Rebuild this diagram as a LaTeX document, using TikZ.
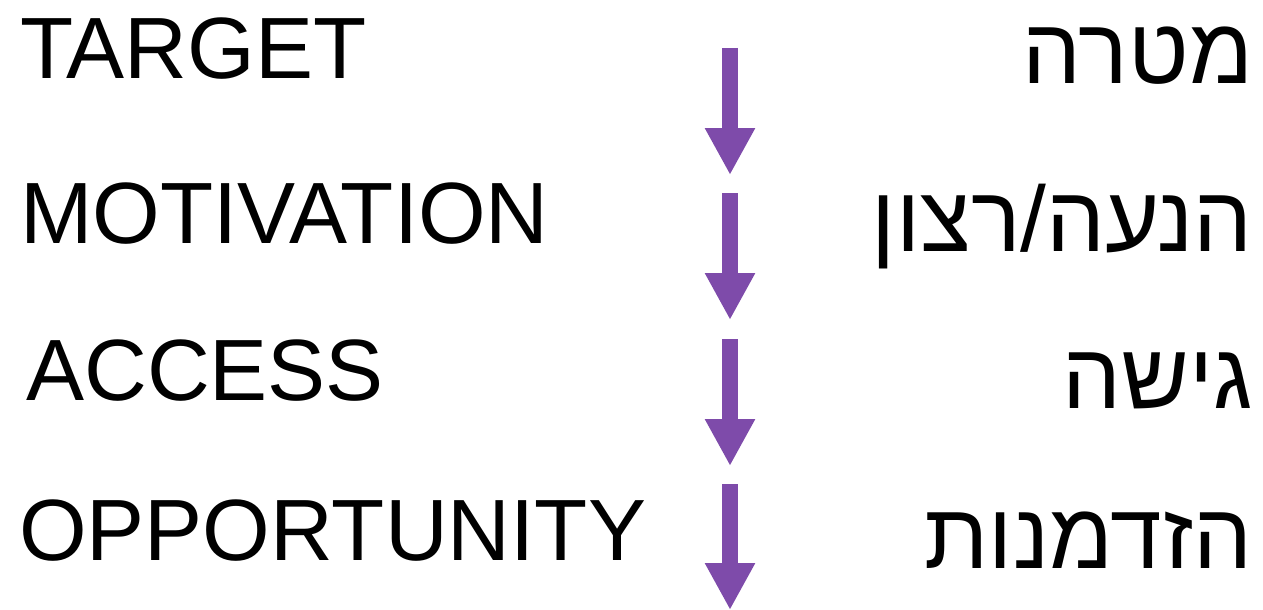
\documentclass[tikz,border=0pt]{standalone}
\usepackage{fontspec}
\setmainfont{Liberation Sans}
\newfontfamily\hebfont[Script=Hebrew]{Liberation Sans}
\TeXXeTstate=1
\usetikzlibrary{arrows.meta}
\definecolor{arrowpurple}{RGB}{126,75,170}

\begin{document}
\begin{tikzpicture}[x=1pt, y=-1pt,
		eng/.style={anchor=base west, inner sep=0pt, font=\fontsize{87}{90}\selectfont},
		heb/.style={anchor=base east, inner sep=0pt, font=\fontsize{93}{96}\selectfont\hebfont},
		down/.style={arrowpurple, line width=16pt, -{Triangle[length=47pt, width=47pt]}}]
	\useasboundingbox (0,0) rectangle (1263,610);
	% left column
	\node[eng] (target) at (20,78) {TARGET};
	\node[eng] (motivation) at (20,243) {MOTIVATION};
	\node[eng] (access) at (26,400) {ACCESS};
	\node[eng] (opportunity) at (19,560) {OPPORTUNITY};
	% right column
	\node[heb] (matara) at (1253,84) {\beginR מטרה\endR};
	\node[heb] (hanaa) at (1253,251) {\beginR הנעה/רצון\endR};
	\node[heb] (gisha) at (1253,408) {\beginR גישה\endR};
	\node[heb] (hizdamnut) at (1253,568) {\beginR הזדמנות\endR};
	% arrows
	\coordinate (a1top) at (730,48);
	\coordinate (a1tip) at (730,175);
	\coordinate (a2top) at (730,193);
	\coordinate (a2tip) at (730,320);
	\coordinate (a3top) at (730,339);
	\coordinate (a3tip) at (730,466);
	\coordinate (a4top) at (730,484);
	\coordinate (a4tip) at (730,610);
	\draw[down] (a1top) -- (a1tip);
	\draw[down] (a2top) -- (a2tip);
	\draw[down] (a3top) -- (a3tip);
	\draw[down] (a4top) -- (a4tip);
\end{tikzpicture}
\end{document}
